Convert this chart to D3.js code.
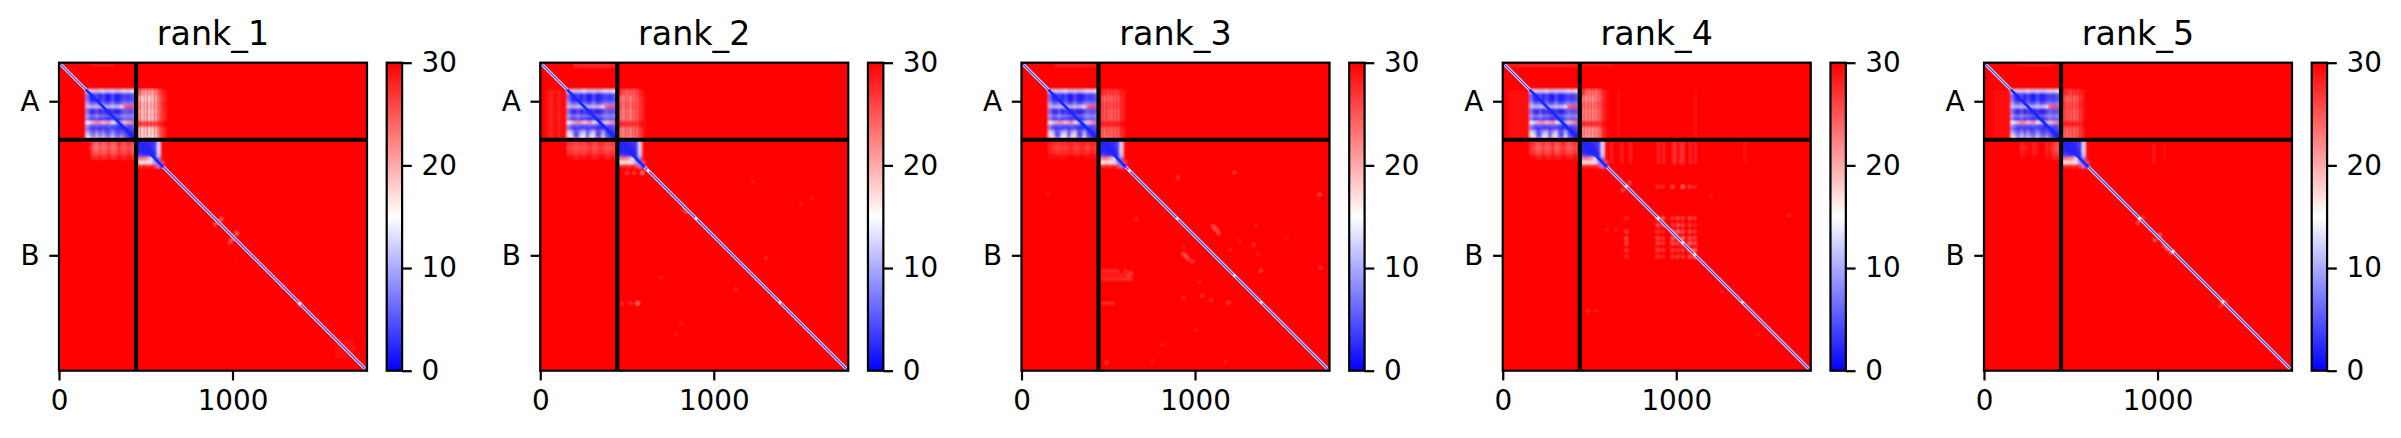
<!DOCTYPE html>
<html><head><meta charset="utf-8">
<script src="https://cdn.jsdelivr.net/npm/d3@7"></script>
<style>html,body{margin:0;padding:0;background:#fff}svg{display:block}text{font-family:"DejaVu Sans",sans-serif;fill:#000}</style>
</head><body><svg id="c" width="2401" height="438"></svg>
<script>
const rankNames = ["rank_1","rank_2","rank_3","rank_4","rank_5"];
const residueCount = 1775;
const chainBreak = 444;
const chainLabels = ["A","B"];
const chainCentres = [222,1110];
const xTicks = [0,1000];
const cbarTicks = [0,10,20,30];
const cbarDomain = [0,15,30];
const cbarColours = ["#0000ff","#ffffff","#ff0000"];

// Chain A self block: 16 x 16 cells of PAE
const blockAStart = 155, blockACell = 18;
const blockARows = [
[14,12,13,12,13,14,12,12,13,12,12,13,14,13,14,16],
[7,2,3,5,2,5,2,2,5,2,2,4,5,4,5,6],
[6,2,2,4,2,4,2,1,4,2,2,3,4,3,4,5],
[7,3,2,3,2,5,2,2,5,2,2,4,5,4,5,5],
[10,6,6,7,5,7,5,5,8,5,5,7,8,7,7,8],
[12,11,11,12,11,10,11,11,12,11,12,16,24,25,26,25],
[7,3,3,5,2,4,2,2,4,2,2,4,6,5,5,6],
[7,3,2,5,2,4,2,2,3,2,2,4,6,5,5,6],
[10,7,7,9,7,7,6,5,5,6,6,8,9,8,8,9],
[7,3,3,5,2,4,2,2,3,2,2,4,6,5,5,6],
[15,18,20,22,21,18,20,22,16,12,6,11,18,20,22,24],
[9,6,5,6,5,5,5,6,5,5,3,2,6,5,5,6],
[7,4,3,4,3,4,3,4,4,3,3,3,2,3,4,5],
[10,7,5,8,5,8,4,5,8,5,4,5,4,2,3,4],
[13,9,7,11,7,10,7,6,10,7,5,8,5,3,1,2],
[15,13,9,13,10,13,9,9,13,9,8,11,7,5,2,1]];
const blockABottomBulbs = [
[13,11,5,6,10,11,5,9,12,5,5,10,4,2,3,4],
[15,13,4,5,13,13,4,12,14,4,4,12,5,3,1,2],
[18,16,8,9,15,16,7,14,17,8,7,14,7,5,2,1]];
const usesBulbs = [false,true,true,true,false];

// Chain B head block: 8 x 8 cells
const blockBStart = 444, blockBCell = 20;
const blockBRows = [
[3,2,2,3,3,3,13,29],
[2,2,2,2,3,4,13,29],
[2,2,2,2,2,4,13,29],
[2,2,2,2,2,3,13,29],
[4,4,3,3,2,2,12,29],
[22,23,22,20,14,3,7,29],
[16,16,17,14,13,9,2,26],
[28,27,28,27,28,26,8,2]];

// Inter-chain A row / B column patches: 8 rows x 10 columns
const abStartX = 450, abCellX = 20, abStartY = 155, abCellY = 36;
const abRank1 = [
[25,21,20,21,20,22,26,28,29,30],[21,17,19,17,19,20,25,27,29,30],
[23,19,20,19,20,21,25,28,29,30],[21,18,20,18,19,20,25,27,29,30],
[22,18,20,18,19,20,25,27,29,30],[27,26,26,26,26,26,28,29,30,30],
[20,17,19,17,18,19,25,27,29,30],[19,17,18,17,17,18,24,27,29,30]];
const abRank2 = [
[27,25,24,25,24,26,28,29,30,30],[24,22,24,22,24,25,27,29,30,30],
[25,23,25,23,25,25,27,29,30,30],[24,22,24,22,24,25,27,29,30,30],
[24,22,24,22,24,25,27,29,30,30],[28,27,27,27,27,27,29,29,30,30],
[23,22,24,22,24,24,27,29,30,30],[23,22,23,22,23,24,27,29,30,30]];
const abRank3 = [
[28,27,26,27,26,27,28,29,30,30],[26,24,25,24,25,25,28,29,30,30],
[27,25,26,25,26,26,28,29,30,30],[26,25,25,24,25,25,28,29,30,30],
[26,25,25,24,25,25,28,29,30,30],[28,28,28,28,28,28,29,30,30,30],
[25,24,25,24,25,25,28,29,30,30],[25,23,24,24,24,25,28,29,30,30]];
const abRank4 = [
[27,24,23,24,23,25,28,29,30,30],[23,21,23,21,23,24,28,29,30,30],
[24,23,24,23,24,25,28,29,30,30],[23,22,23,22,23,24,28,29,30,30],
[23,22,23,22,23,24,28,29,30,30],[28,27,27,27,27,27,29,30,30,30],
[22,21,22,21,22,23,28,29,30,30],[22,21,21,21,22,23,28,29,30,30]];
const abRank5 = [
[28,27,26,27,27,28,29,30,30,30],[26,24,25,24,25,27,29,30,30,30],
[27,25,26,25,26,28,29,30,30,30],[26,25,25,24,25,27,29,30,30,30],
[26,25,25,24,25,27,29,30,30,30],[28,28,28,28,28,28,30,30,30,30],
[25,24,25,24,25,27,29,30,30,30],[25,23,24,24,25,27,29,30,30,30]];
const abByRank = [abRank1,abRank2,abRank3,abRank4,abRank5];
const abSeamColumns = [470,490,510,530,550,570];

// Inter-chain B row / A column patches: 4 rows x 16 columns
const baStartX = 155, baCellX = 18, baStartY = 452, baCellY = 26;
const baRank1 = [
[30,29,25,23,26,24,25,27,24,25,28,26,25,27,26,25],
[30,28,24,22,25,23,24,26,23,24,27,25,24,26,25,24],
[30,29,25,24,26,24,25,27,24,25,27,26,25,27,26,25],
[30,29,27,27,28,27,27,29,27,27,29,28,27,29,28,27]];
const baRank2 = [
[27,27,26,26,27,26,27,28,26,26,28,27,26,26,27,26],
[26,26,25,25,26,25,26,27,25,25,27,26,25,25,26,25],
[27,27,26,26,27,26,27,28,26,26,28,27,26,26,27,26],
[29,29,28,28,29,28,29,29,28,28,29,29,28,28,29,28]];
const baRank3 = [
[28,28,27,27,28,27,28,28,27,27,28,28,27,28,28,27],
[28,27,26,26,27,26,27,28,26,26,28,27,26,27,27,26],
[28,28,27,27,28,27,28,28,27,27,28,28,27,28,28,27],
[29,29,29,29,29,29,29,30,29,29,30,29,29,29,29,29]];
const baRank4 = [
[27,27,25,26,27,25,26,28,25,26,28,27,25,26,27,26],
[27,26,24,25,26,24,25,27,24,25,27,26,24,25,26,25],
[27,27,25,26,27,25,26,28,25,26,28,27,25,26,27,26],
[29,29,28,28,29,28,28,29,28,28,29,29,28,28,29,28]];
const baRank5 = [
[30,30,30,28,29,29,30,28,29,30,30,28,29,27,26,26],
[30,30,30,27,28,29,30,28,29,30,30,28,29,26,25,25],
[30,30,30,28,29,29,30,28,29,30,30,28,29,27,26,26],
[30,30,30,29,29,30,30,29,30,30,30,29,29,28,28,28]];
const baByRank = [baRank1,baRank2,baRank3,baRank4,baRank5];

// Faint patches per rank: x0,x1,y0,y1,value (residues)
const patchesRank1 = [[190,320,8,20,28.5],[1590,1700,1590,1700,29.5]];
const patchesRank2 = [[190,440,8,26,27.5],[30,150,155,440,29],[50,70,155,440,28],[100,115,155,440,28]];
const patchesRank3 = [[190,430,8,24,28.5],[457,560,1194,1205,27],[457,640,1216,1228,28],[457,640,1238,1251,27],[457,535,1380,1392,27]];
const patchesRank4 = [[20,440,8,22,28],[450,640,8,22,29],[30,150,155,440,29.5],
 [660,672,155,440,29],[893,900,155,440,29],[922,930,155,440,29],[979,987,155,440,29],[1037,1044,155,440,29],[1077,1085,155,440,29],[1106,1113,155,440,28.5],[1392,1398,155,440,29.5],
 [620,632,450,580,28],[680,690,450,580,28],[730,742,450,580,28],[893,902,450,585,27],[922,930,450,585,27],[979,1000,450,585,27],[1020,1044,450,585,27],[1077,1085,450,585,27],[1106,1113,450,585,27],[1392,1398,450,580,28]];
const patchesRank5 = [[190,400,8,20,28.5],[50,150,155,440,29.5],[973,985,464,580,28],[1040,1046,464,580,29]];
const patchesByRank = [patchesRank1,patchesRank2,patchesRank3,patchesRank4,patchesRank5];

// Faint spots per rank: x,y,value
const spotsRank1 = [[918,916,22],[900,930,25],[935,900,24],[995,1020,24],[1024,983,23],[985,1035,26],[1388,1390,22],[1290,1290,26],[1020,1130,29],[1700,1640,28]];
const spotsRank2 = [[561,1386,22],[470,1386,27],[520,1386,27],[588,633,22],[500,633,26],[540,633,26],[839,858,25],[825,845,27],[1300,1127,27],[1127,1305,27],[810,1501,28],[782,1561,28],[695,1236,28],[1502,810,28],[1565,781,28],[1223,685,28],[1578,1480,29]];
const spotsRank3 = [[1103,941,25],[1115,955,24],[1127,970,25],[1137,983,26],[934,1102,25],[947,1115,24],[960,1130,25],[982,1146,26],
 [600,1200,27],[615,1228,26],[630,1210,26],[901,660,26],[660,902,27],[1227,632,27],[1717,760,26],[1352,939,28],[1256,1025,28],[1337,1048,27],[1360,1098,28],[1202,1077,28],[1378,1198,26],[1722,1179,27],[1526,1017,28],[934,1357,27],[1042,1342,27],[1093,1365,27],[1192,1383,26],[1025,1267,28],[933,1063,28],[812,1625,28],[1006,1538,28],[489,1728,27],[755,1716,28],[1175,1728,28],[152,748,28]];
const spotsRank4 = [
[893,896,22],[922,896,24],[979,896,26],[1008,896,25],[1037,896,26],[1077,896,25],[1106,896,26],
[893,935,24],[922,935,25],[979,935,26],[1008,935,24],[1037,935,25],[1077,935,26],[1106,935,27],
[893,973,26],[922,973,27],[979,973,23],[1008,973,22],[1037,973,24],[1077,973,25],[1106,973,26],
[893,1011,25],[922,1011,26],[979,1011,23],[1008,1011,24],[1037,1011,22],[1077,1011,24],[1106,1011,25],
[893,1040,25],[922,1040,26],[979,1040,24],[1008,1040,25],[1037,1040,23],[1077,1040,22],[1106,1040,24],
[893,1079,25],[922,1079,26],[979,1079,25],[1008,1079,26],[1037,1079,25],[1077,1079,22],[1106,1079,22],
[893,1117,26],[922,1117,27],[979,1117,26],[1008,1117,26],[1037,1117,26],[1077,1117,25],[1106,1117,23],
[712,714,22],[690,735,26],[730,690,26],[893,714,26],[922,714,27],[979,714,25],[1037,714,23],[1077,714,26],[1106,714,27],[712,896,27],[712,973,26],[712,1011,25],[712,1040,25],[712,1079,26],[712,1117,27],[600,960,28],[650,960,28],[1200,770,28],[1260,1320,28],[1470,1570,28],[1650,880,28],[490,1430,27],[540,1430,28]];
const spotsRank5 = [[897,906,23],[885,925,26],[915,890,26],[984,1021,24],[1013,992,24],[1051,1060,23],[1035,1050,25],[1075,1095,25],[1060,1075,24],[1089,1089,24],[1377,1386,24],[1360,1405,27],[1395,1370,27]];
const spotsByRank = [spotsRank1,spotsRank2,spotsRank3,spotsRank4,spotsRank5];

// Bright points on the diagonal
const diagDots = [[1388],[622,898,1381],[622,898,1227,1381],[712,896,1037,1106,1381],[897,1089,1377]];

const panelWidth = 308, panelHeight = 308, panelStep = 481.25, firstLeft = 59, panelTop = 62.7;
const fs = 27.8, lw = 2.22;
const colour = d3.scaleLinear().domain(cbarDomain).range(cbarColours).clamp(true);
const x = d3.scaleLinear().domain([0,residueCount]).range([0,panelWidth]);
const y = d3.scaleLinear().domain([0,residueCount]).range([0,panelHeight]);
const cbar = d3.scaleLinear().domain([0,30]).range([panelHeight,0]);
const svg = d3.select("#c");
const defs = svg.append("defs");
defs.append("filter").attr("id","soft").attr("x","-5%").attr("y","-5%").attr("width","110%").attr("height","110%")
  .append("feGaussianBlur").attr("stdDeviation",0.8);
defs.append("clipPath").attr("id","plotClip").append("rect").attr("width",panelWidth).attr("height",panelHeight);
const grad = defs.append("linearGradient").attr("id","bwr").attr("x1",0).attr("x2",0).attr("y1",1).attr("y2",0);
cbarDomain.forEach((d,i)=>grad.append("stop").attr("offset",d/30).attr("stop-color",cbarColours[i]));

function matrixCells(rows,x0,cw,y0,ch){
  return rows.flatMap((r,j)=>r.map((v,i)=>({x0:x0+i*cw,x1:x0+(i+1)*cw,y0:y0+j*ch,y1:y0+(j+1)*ch,v})));
}
function styleAxis(g){
  g.selectAll("path.domain").remove();
  g.selectAll(".tick line").attr("stroke","#000").attr("stroke-width",lw);
  g.selectAll("text").attr("font-size",fs).attr("font-family",'"DejaVu Sans"');
}
rankNames.forEach((name,k)=>{
  const p = svg.append("g").attr("transform",`translate(${firstLeft+k*panelStep},${panelTop})`);
  const clip = p.append("g").attr("clip-path","url(#plotClip)");
  const soft = clip.append("g").attr("filter","url(#soft)");
  soft.append("rect").attr("x",-5).attr("y",-5).attr("width",panelWidth+10).attr("height",panelHeight+10).attr("fill",colour(30));
  const rowsA = usesBulbs[k] ? blockARows.slice(0,13).concat(blockABottomBulbs) : blockARows;
  const cells = [
    ...patchesByRank[k].map(([x0,x1,y0,y1,v])=>({x0,x1,y0,y1,v})),
    ...matrixCells(abByRank[k],abStartX,abCellX,abStartY,abCellY),
    ...matrixCells(baByRank[k],baStartX,baCellX,baStartY,baCellY),
    ...matrixCells(rowsA,blockAStart,blockACell,blockAStart,blockACell),
    ...matrixCells(blockBRows,blockBStart,blockBCell,blockBStart,blockBCell),
    ...spotsByRank[k].map(([sx,sy,v])=>({x0:sx-8,x1:sx+8,y0:sy-8,y1:sy+8,v}))
  ];
  soft.selectAll("rect.cell").data(cells).join("rect").attr("class","cell")
    .attr("x",d=>x(d.x0)).attr("y",d=>y(d.y0))
    .attr("width",d=>x(d.x1)-x(d.x0)+0.2).attr("height",d=>y(d.y1)-y(d.y0)+0.2)
    .attr("fill",d=>colour(d.v));
  clip.selectAll("line.seam").data(abSeamColumns).join("line").attr("class","seam")
    .attr("x1",d=>x(d)).attr("x2",d=>x(d)).attr("y1",y(abStartY)).attr("y2",y(abStartY+8*abCellY))
    .attr("stroke",colour(30)).attr("stroke-width",0.9).attr("opacity",0.3);
  // Diagonal band: [from, to, halo, white, core] widths
  const diag = [[0,155,3.4,2.6,1.3],[155,444,3,0,2.6],[444,600,3,0,2.4],[600,1775,3.4,2.5,1.3]];
  const ln = d3.line().x(d=>x(d)).y(d=>y(d));
  clip.selectAll("path.halo").data(diag.filter(d=>d[3]>0)).join("path").attr("class","halo").attr("d",d=>ln([d[0],d[1]]))
    .attr("stroke","#ff9a9a").attr("stroke-width",d=>d[2]).attr("fill","none");
  clip.selectAll("path.whiteband").data(diag.filter(d=>d[3]>0)).join("path").attr("class","whiteband").attr("d",d=>ln([d[0],d[1]]))
    .attr("stroke","#e6e8ff").attr("stroke-width",d=>d[3]).attr("fill","none");
  clip.selectAll("path.core").data(diag).join("path").attr("class","core").attr("d",d=>ln([d[0],d[1]]))
    .attr("stroke",d=>d[3]>0?"#3050ff":"#1428ff").attr("stroke-width",d=>d[4]).attr("fill","none");
  clip.selectAll("circle.dot").data(diagDots[k]).join("circle").attr("class","dot")
    .attr("cx",d=>x(d)).attr("cy",d=>y(d)).attr("r",1.6).attr("fill","#ffffff").attr("opacity",0.8);
  // chain separators
  [chainBreak].forEach(c=>{
    p.append("line").attr("x1",x(c)).attr("x2",x(c)).attr("y1",0).attr("y2",panelHeight).attr("stroke","#000").attr("stroke-width",4.2);
    p.append("line").attr("y1",y(c)).attr("y2",y(c)).attr("x1",0).attr("x2",panelWidth).attr("stroke","#000").attr("stroke-width",4.2);
  });
  p.append("rect").attr("width",panelWidth).attr("height",panelHeight).attr("fill","none").attr("stroke","#000").attr("stroke-width",lw);
  p.append("g").attr("transform",`translate(0,${panelHeight})`)
    .call(d3.axisBottom(x).tickValues(xTicks).tickFormat(d3.format("d")).tickSize(9.7).tickPadding(9.7)).call(styleAxis);
  p.append("g").call(d3.axisLeft(y).tickValues(chainCentres).tickFormat((d,i)=>chainLabels[i]).tickSize(9.7).tickPadding(9.7)).call(styleAxis);
  p.append("text").attr("x",panelWidth/2).attr("y",-17.5).attr("text-anchor","middle").attr("font-size",33.3).text(name);
  const cb = p.append("g").attr("transform",`translate(${panelWidth+19.7},0)`);
  cb.append("rect").attr("width",15.4).attr("height",panelHeight).attr("fill","url(#bwr)").attr("stroke","#000").attr("stroke-width",lw);
  cb.append("g").attr("transform","translate(15.4,0)")
    .call(d3.axisRight(cbar).tickValues(cbarTicks).tickFormat(d3.format("d")).tickSize(9.7).tickPadding(9.7)).call(styleAxis);
});
</script></body></html>
